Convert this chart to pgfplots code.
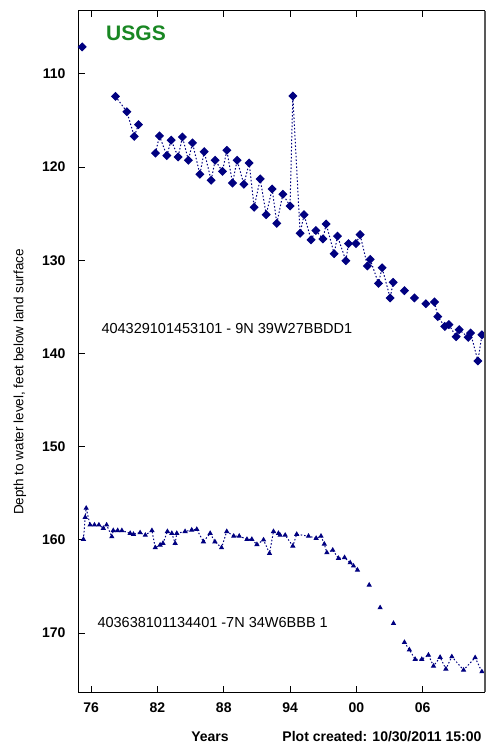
\documentclass[border=0pt]{standalone}
\usepackage{fontspec}
\setmainfont{Liberation Sans}
\usepackage{pgfplots}
\pgfplotsset{compat=1.18}
\definecolor{navy}{RGB}{0,0,128}
\definecolor{usgsgreen}{RGB}{25,135,35}

\begin{document}
\begin{tikzpicture}
% frame the picture: axis box corner sits at (0,0)
\useasboundingbox (-79pt,-52pt) rectangle (407pt,692pt);
\begin{axis}[
    scale only axis,
    width=405pt, height=681pt,
    xmin=1974.9, xmax=2011.55,
    ymin=103.24, ymax=176.33,
    y dir=reverse,
    unbounded coords=jump,
    xtick={1976,1982,1988,1994,2000,2006},
    xticklabels={76,82,88,94,00,06},
    ytick={110,120,130,140,150,160,170},
    tick align=inside,
    xtick pos=both, ytick pos=left,
    major tick length=6pt,
    tick style={black, line width=1pt},
    axis line style={black, line width=1pt},
    /pgf/number format/assume math mode=true,
    ticklabel style={font=\fontsize{14}{14}\selectfont\bfseries},
    xticklabel style={yshift=-7pt},
    yticklabel style={xshift=-10pt},
    clip=false,
]
% 404329101453101
\addplot[navy, line width=1pt, dash pattern=on 1.5pt off 2pt,
    mark=square*, mark size=2.7pt, mark options={solid, rotate=45}] coordinates {
    (1975.19,107.1) (1977,nan)
    (1978.2,112.4) (1979.23,114.05) (1979.9,116.7) (1980.28,115.44) (1981,nan)
    (1981.82,118.5) (1982.18,116.65) (1982.85,118.76) (1983.24,117.1)
    (1983.87,118.9) (1984.26,116.76) (1984.8,119.26) (1985.17,117.4)
    (1985.84,120.77) (1986.23,118.34) (1986.86,121.41) (1987.22,119.26)
    (1987.88,120.45) (1988.28,118.19) (1988.79,121.7) (1989.21,119.26)
    (1989.82,121.84) (1990.3,119.55) (1990.75,124.31) (1991.3,121.27)
    (1991.84,125.1) (1992.38,122.34) (1992.8,126.03) (1993.35,122.9)
    (1994.0,124.17) (1994.25,112.36) (1994.91,127.1) (1995.27,125.1)
    (1995.9,127.8) (1996.33,126.8) (1996.97,127.7) (1997.27,126.1)
    (1997.99,129.29) (1998.29,127.4) (1999.05,130.04) (1999.29,128.2)
    (1999.96,128.2) (2000.34,127.24) (2001.0,130.6) (2001.25,129.9)
    (2002.0,132.47) (2002.33,130.8) (2003.06,134.04) (2003.33,132.36) (2003.8,nan)
    (2004.35,133.26) (2004.8,nan)
    (2005.26,134.04) (2005.8,nan)
    (2006.29,134.65) (2006.7,nan)
    (2007.07,134.47) (2007.37,136.04) (2008.0,137.1) (2008.37,136.9)
    (2009.03,138.19) (2009.3,137.44) (2010.12,138.26) (2010.33,137.8)
    (2011.0,140.8) (2011.36,138.0)
};
% 403638101134401
\addplot[navy, line width=1pt, dash pattern=on 1.5pt off 2pt,
    mark=triangle*, mark size=2.1pt, mark options={solid}] coordinates {
    (1975.3,159.94) (1975.46,157.58) (1975.55,156.6) (1975.9,158.4)
    (1976.3,158.4) (1976.7,158.4) (1977.1,158.76) (1977.4,158.4)
    (1977.87,159.66) (1978.0,159.0) (1978.4,159.0) (1978.78,159.0)
    (1979.53,159.3) (1979.83,159.4) (1980.43,159.23) (1980.9,159.5)
    (1981.5,159.0) (1981.8,160.84) (1982.24,160.55) (1982.5,160.37)
    (1982.9,159.1) (1983.3,159.3) (1983.6,160.37) (1983.75,159.3)
    (1984.5,159.1) (1985.1,158.94) (1985.56,158.87) (1986.16,160.2)
    (1986.77,159.3) (1987.2,160.2) (1987.8,160.84) (1988.27,159.1)
    (1988.9,159.6) (1989.4,159.6) (1990.1,159.94) (1990.54,159.94)
    (1991.0,160.5) (1991.6,160.0) (1992.14,161.45) (1992.5,159.1)
    (1992.95,159.3) (1993.1,159.5) (1993.56,159.5) (1994.25,160.66)
    (1994.6,159.4) (1995.67,159.6) (1996.36,159.83) (1996.8,159.6)
    (1997.1,160.45) (1997.33,161.37) (1997.86,161.1) (1998.38,161.98)
    (1998.93,161.9) (1999.44,162.45) (1999.74,162.8) (2000.1,163.24) (2000.6,nan)
    (2001.16,164.85) (2001.6,nan)
    (2002.15,167.28) (2002.7,nan)
    (2003.36,168.96) (2003.8,nan)
    (2004.35,171.0) (2004.8,171.8) (2005.32,172.82) (2005.92,172.82)
    (2006.52,172.36) (2006.98,173.54) (2007.58,172.6) (2008.1,173.86)
    (2008.64,172.54) (2009.7,173.97) (2010.75,172.64) (2011.36,174.15)
};
\end{axis}
% heavier grey right border as in the source plot
\draw[gray!70!black, line width=2.5pt] (406pt,0pt) -- (406pt,681pt);
\node[text=usgsgreen, font=\fontsize{21}{21}\selectfont\bfseries] at (57pt,659pt) {USGS};
\node[anchor=west, font=\fontsize{14.5}{14.5}\selectfont] at (19pt,363pt) {404329101453101 - 9N 39W27BBDD1};
\node[anchor=west, font=\fontsize{14.5}{14.5}\selectfont] at (15pt,69pt) {403638101134401 -7N 34W6BBB 1};
\node[rotate=90, font=\fontsize{13.5}{13.5}\selectfont] at (-59pt,310pt) {Depth to water level, feet below land surface};
\node[font=\fontsize{14}{14}\selectfont\bfseries] at (131pt,-45pt) {Years};
\node[anchor=east, font=\fontsize{14}{14}\selectfont\bfseries] at (406pt,-45pt) {Plot created: 10/30/2011 15:00};
\end{tikzpicture}
\end{document}
